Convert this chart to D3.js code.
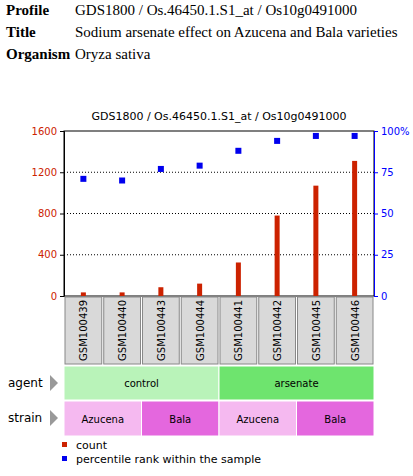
<!DOCTYPE html>
<html>
<head>
<meta charset="utf-8">
<script src="https://cdn.jsdelivr.net/npm/d3@7"></script>
<style>body{margin:0;background:#fff}</style>
</head>
<body>
<script>
var samples = ["GSM100439","GSM100440","GSM100443","GSM100444","GSM100441","GSM100442","GSM100445","GSM100446"];
var counts = [35, 35, 85, 120, 325, 780, 1070, 1310];
var percentiles = [71, 70, 77, 79, 88, 94, 97, 97];
var agents = [{name:"control", n:4, color:"#b9f3b9"}, {name:"arsenate", n:4, color:"#6ee46e"}];
var strains = [{name:"Azucena", n:2, color:"#f5b9f0"}, {name:"Bala", n:2, color:"#e467de"},
               {name:"Azucena", n:2, color:"#f5b9f0"}, {name:"Bala", n:2, color:"#e467de"}];
var countTicks = [0, 400, 800, 1200, 1600];
var pctTicks = [0, 25, 50, 75, 100];

var svg = d3.select("body").append("svg").attr("width", 413).attr("height", 476);

// header
var info = [["Profile","GDS1800 / Os.46450.1.S1_at / Os10g0491000"],
            ["Title","Sodium arsenate effect on Azucena and Bala varieties"],
            ["Organism","Oryza sativa"]];
info.forEach(function (r, i) {
    var y = 15 + i * 22;
    svg.append("text").attr("x", 6).attr("y", y).text(r[0])
        .style("font", "bold 15px 'Liberation Serif', serif");
    svg.append("text").attr("x", 75).attr("y", y).text(r[1])
        .style("font", "15px 'Liberation Serif', serif");
});

var L = 64, R = 374, T = 131, B = 296;
svg.append("text").attr("x", (L + R) / 2).attr("y", 120).attr("text-anchor", "middle")
    .text("GDS1800 / Os.46450.1.S1_at / Os10g0491000")
    .style("font", "11px 'DejaVu Sans', sans-serif");

var x = d3.scaleBand().domain(samples).range([L, R]);
var y = d3.scaleLinear().domain([0, 1600]).range([B, T]);
var y2 = d3.scaleLinear().domain([0, 100]).range([B, T]);

svg.append("rect").attr("x", L).attr("y", T).attr("width", R - L).attr("height", B - T)
    .attr("fill", "none").attr("stroke", "#000");

[400, 800, 1200].forEach(function (v) {
    svg.append("line").attr("x1", L).attr("x2", R).attr("y1", y(v)).attr("y2", y(v))
        .attr("stroke", "#000").attr("stroke-dasharray", "1,2");
});

var ax = svg.append("g").attr("transform", "translate(" + L + ",0)")
    .call(d3.axisLeft(y).tickValues(countTicks).tickSize(4).tickFormat(d3.format("d")));
ax.selectAll("text").attr("fill", "#cc2200").style("font", "10px 'DejaVu Sans', sans-serif");
ax.selectAll("line,path").attr("stroke", "#000");
var ax2 = svg.append("g").attr("transform", "translate(" + R + ",0)")
    .call(d3.axisRight(y2).tickValues(pctTicks).tickSize(4).tickFormat(function (d) { return d === 100 ? "100%" : d; }));
ax2.selectAll("text").attr("fill", "#0000ff").style("font", "10px 'DejaVu Sans', sans-serif");
ax2.selectAll("line,path").attr("stroke", "#0000ff");

svg.selectAll(".bar").data(counts).enter().append("rect")
    .attr("x", function (d, i) { return x(samples[i]) + x.bandwidth() / 2 - 2.5; })
    .attr("width", 5)
    .attr("y", function (d) { return y(d); })
    .attr("height", function (d) { return B - y(d); })
    .attr("fill", "#cc2200");

svg.selectAll(".pt").data(percentiles).enter().append("rect")
    .attr("x", function (d, i) { return x(samples[i]) + x.bandwidth() / 2 - 3; })
    .attr("y", function (d) { return y2(d) - 3; })
    .attr("width", 6).attr("height", 6).attr("fill", "#0000ee");

// sample boxes
samples.forEach(function (s) {
    svg.append("rect").attr("x", x(s) + 1).attr("y", B + 1).attr("width", x.bandwidth() - 2).attr("height", 67)
        .attr("fill", "#d9d9d9").attr("stroke", "#888");
    svg.append("text").attr("transform", "translate(" + (x(s) + x.bandwidth() / 2 + 4) + "," + (B + 4) + ") rotate(-90)")
        .attr("text-anchor", "end").text(s).style("font", "10px 'DejaVu Sans', sans-serif");
});

function bandRow(groups, y0, h) {
    var i = 0;
    groups.forEach(function (g) {
        var x0 = x(samples[i]), x1 = x(samples[i + g.n - 1]) + x.bandwidth();
        svg.append("rect").attr("x", x0).attr("y", y0).attr("width", x1 - x0).attr("height", h)
            .attr("fill", g.color).attr("stroke", "#fff");
        svg.append("text").attr("x", (x0 + x1) / 2).attr("y", y0 + h / 2 + 4).attr("text-anchor", "middle")
            .text(g.name).style("font", "10px 'DejaVu Sans', sans-serif");
        i += g.n;
    });
}
bandRow(agents, 366, 34);
bandRow(strains, 401, 35);

[["agent", 383], ["strain", 418]].forEach(function (r) {
    svg.append("text").attr("x", 8).attr("y", r[1] + 4).text(r[0]).style("font", "12px 'DejaVu Sans', sans-serif");
    svg.append("path").attr("d", "M50," + (r[1] - 8) + "L58," + r[1] + "L50," + (r[1] + 8) + "Z").attr("fill", "#999");
});

[["count", "#cc2200", 445], ["percentile rank within the sample", "#0000ee", 459]].forEach(function (r) {
    svg.append("rect").attr("x", 62).attr("y", r[2] - 3).attr("width", 5).attr("height", 5).attr("fill", r[1]);
    svg.append("text").attr("x", 76).attr("y", r[2] + 4).text(r[0]).style("font", "11px 'DejaVu Sans', sans-serif");
});
</script>
</body>
</html>
